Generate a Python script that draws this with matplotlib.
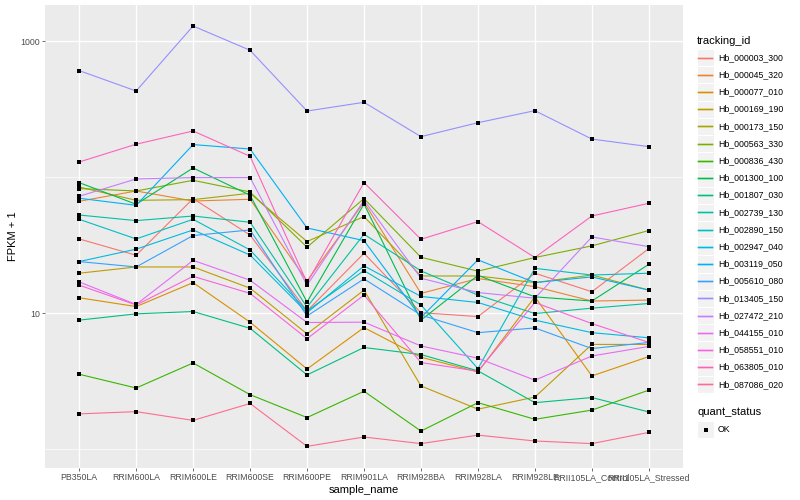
import matplotlib
matplotlib.use("Agg")
import matplotlib.pyplot as plt
from matplotlib.patches import Rectangle
from matplotlib.lines import Line2D
from matplotlib.ticker import FixedLocator, NullFormatter

plt.rcParams['font.family'] = ['Liberation Sans', 'DejaVu Sans']

# x categories
samples = ["PB350LA", "RRIM600LA", "RRIM600LE", "RRIM600SE", "RRIM600PE", "RRIM901LA",
           "RRIM928BA", "RRIM928LA", "RRIM928LE", "RRII105LA_Control", "RRII105LA_Stressed"]

tracking_ids = ["Hb_000003_300", "Hb_000045_320", "Hb_000077_010", "Hb_000169_190",
                "Hb_000173_150", "Hb_000563_330", "Hb_000836_430", "Hb_001300_100",
                "Hb_001807_030", "Hb_002739_130", "Hb_002890_150", "Hb_002947_040",
                "Hb_003119_050", "Hb_005610_080", "Hb_013405_150", "Hb_027472_210",
                "Hb_044155_010", "Hb_058551_010", "Hb_063805_010", "Hb_087086_020"]

# FPKM + 1
hb_000003_300 = [35.2, 26.7, 69.7, 37.6, 10.4, 27.6, 10.1, 9.45, 19.7, 14.4, 29.9]
hb_000045_320 = [66.6, 79.3, 66.9, 68.9, 17.3, 65.5, 14.0, 18.0, 15.7, 12.3, 12.5]
hb_000077_010 = [13.0, 11.2, 16.8, 8.6, 3.89, 7.85, 4.75, 3.70, 13.2, 3.46, 4.8]
hb_000169_190 = [19.7, 21.9, 21.9, 15.3, 7.05, 14.8, 2.92, 1.97, 2.42, 5.9, 5.9]
hb_000173_150 = [84.8, 67.7, 68.5, 76.3, 33.7, 51.4, 18.8, 18.8, 16.8, 19.1, 14.8]
hb_000563_330 = [82.6, 79.3, 95.0, 78.0, 30.6, 69.7, 25.8, 20.4, 25.7, 31.3, 40.6]
hb_000836_430 = [3.56, 2.82, 4.31, 2.52, 1.71, 2.67, 1.36, 2.20, 1.66, 1.94, 2.72]
hb_001300_100 = [91.4, 63.3, 117.1, 73.8, 12.1, 63.6, 8.9, 19.0, 13.2, 12.3, 22.9]
hb_001807_030 = [8.9, 9.9, 10.3, 7.75, 3.52, 5.6, 4.97, 3.77, 2.20, 2.40, 1.88]
hb_002739_130 = [52.8, 48.0, 51.9, 46.7, 11.1, 38.1, 20.5, 13.6, 9.95, 10.9, 11.8]
hb_002890_150 = [49.1, 35.2, 49.1, 29.2, 10.4, 20.6, 11.5, 3.92, 21.4, 19.1, 19.7]
hb_002947_040 = [24.0, 29.6, 41.0, 26.8, 10.1, 22.3, 13.3, 12.0, 8.9, 7.2, 6.6]
hb_003119_050 = [70.1, 62.2, 174, 161.4, 42.4, 34.2, 9.3, 24.7, 16.8, 18.5, 14.8]
hb_005610_080 = [24.0, 21.9, 37.3, 41.0, 9.55, 17.9, 9.7, 7.2, 7.8, 5.5, 6.1]
hb_013405_150 = [609, 431, 1296, 859, 307, 356, 199, 252, 309, 191, 168]
hb_027472_210 = [72.5, 97.2, 99.5, 99.5, 16.1, 67.7, 18.1, 14.2, 12.9, 36.4, 30.9]
hb_044155_010 = [17.0, 11.6, 24.5, 17.5, 8.55, 8.6, 5.75, 4.67, 3.22, 4.85, 5.7]
hb_058551_010 = [16.1, 11.5, 18.7, 14.0, 6.5, 13.6, 4.34, 3.75, 12.0, 8.4, 6.1]
hb_063805_010 = [129.6, 175, 219, 142.7, 16.8, 91.4, 35.0, 47.2, 25.7, 51.9, 64.4]
hb_087086_020 = [1.82, 1.89, 1.63, 2.17, 1.05, 1.23, 1.10, 1.27, 1.15, 1.10, 1.33]

series = [hb_000003_300, hb_000045_320, hb_000077_010, hb_000169_190, hb_000173_150,
          hb_000563_330, hb_000836_430, hb_001300_100, hb_001807_030, hb_002739_130,
          hb_002890_150, hb_002947_040, hb_003119_050, hb_005610_080, hb_013405_150,
          hb_027472_210, hb_044155_010, hb_058551_010, hb_063805_010, hb_087086_020]

# ggplot hue palette, 20 levels
colors = ["#F8766D", "#EA8331", "#D89000", "#C09B00", "#A3A500", "#7CAE00", "#39B600",
          "#00BB4E", "#00BF7D", "#00C1A3", "#00BFC4", "#00BAE0", "#00B0F6", "#35A2FF",
          "#9590FF", "#C77CFF", "#E76BF3", "#FA62DB", "#FF62BC", "#FF6C91"]

W, H = 800, 500
fig = plt.figure(figsize=(8, 5), dpi=100)
fig.patch.set_facecolor("white")

# panel in pixel units
pl, pr, pt, pb = 45, 683, 5, 468
ax = fig.add_axes([pl / W, 1 - pb / H, (pr - pl) / W, (pb - pt) / H])
ax.set_facecolor("#EBEBEB")
for s in ax.spines.values():
    s.set_visible(False)

xs = list(range(1, len(samples) + 1))
for vals, c in zip(series, colors):
    ax.plot(xs, vals, color=c, lw=0.8, zorder=3, solid_capstyle="butt")
for vals in series:
    ax.plot(xs, vals, "s", color="black", ms=2.6, mew=0, zorder=4)

ax.set_yscale("log")
ax.set_ylim(10 ** -0.138, 10 ** 3.267)
ax.set_xlim(0.4, len(samples) + 0.6)

ax.yaxis.set_major_locator(FixedLocator([10, 1000]))
ax.yaxis.set_minor_locator(FixedLocator([1, 100]))
ax.yaxis.set_minor_formatter(NullFormatter())
ax.set_yticklabels(["10", "1000"])
ax.set_xticks(xs)
ax.set_xticklabels(samples)

ax.grid(True, which="major", color="white", lw=1.0, zorder=1)
ax.grid(True, which="minor", axis="y", color="white", lw=0.5, zorder=1)
ax.set_axisbelow(True)
ax.tick_params(which="major", length=2.0, width=0.5, color="#333333",
               labelsize=6.3, labelcolor="#4D4D4D", pad=1.5)
ax.tick_params(which="minor", length=0)

ax.set_xlabel("sample_name", fontsize=8, labelpad=2)
ax.set_ylabel("FPKM + 1", fontsize=8, labelpad=2)

# legends, drawn in pixel coordinates
lax = fig.add_axes([0, 0, 1, 1], zorder=5)
lax.set_xlim(0, W)
lax.set_ylim(H, 0)
lax.axis("off")

kx, kw, kh = 697, 17, 17.2
lax.text(kx, 41, "tracking_id", fontsize=8, va="center", ha="left")
y0 = 49
for i, (name, c) in enumerate(zip(tracking_ids, colors)):
    ky = y0 + i * kh
    lax.add_patch(Rectangle((kx, ky), kw, kh, facecolor="#F2F2F2", edgecolor="white", lw=0.8))
    ly = round(ky + kh / 2) + 0.5
    lax.add_line(Line2D([kx + 1.5, kx + kw - 1.5], [ly, ly], color=c, lw=1.2, snap=False))
    lax.text(kx + kw + 4, ky + kh / 2, name, fontsize=6.3, va="center", ha="left")

lax.text(kx, 412, "quant_status", fontsize=8, va="center", ha="left")
ky = 421
lax.add_patch(Rectangle((kx, ky), kw, kh, facecolor="#F2F2F2", edgecolor="white", lw=0.8))
lax.plot([kx + kw / 2], [ky + kh / 2], "s", color="black", ms=2.6, mew=0)
lax.text(kx + kw + 4, ky + kh / 2, "OK", fontsize=6.3, va="center", ha="left")

fig.savefig("out.png", dpi=100)
